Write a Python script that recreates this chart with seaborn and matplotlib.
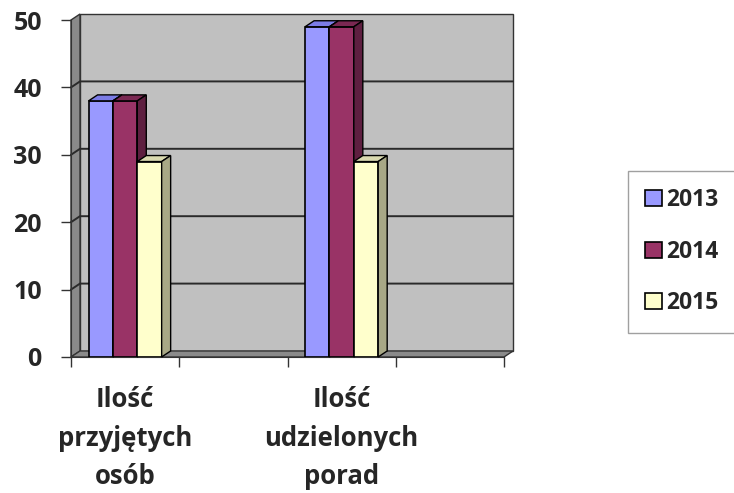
import matplotlib.pyplot as plt
import seaborn as sns
import pandas as pd
from matplotlib.patches import Polygon

# Data
categories = ["Ilość\nprzyjętych\nosób", "Ilość\nudzielonych\nporad"]
slots = [categories[0], "", categories[1], " "]  # empty slots as in the original
years = ["2013", "2014", "2015"]
v2013 = [38, 49]
v2014 = [38, 49]
v2015 = [29, 29]
yticks = [0, 10, 20, 30, 40, 50]

colors = ["#9999FF", "#993366", "#FFFFCC"]
top_colors = ["#7C7CE6", "#7A2852", "#DADAB0"]
side_colors = ["#6B6BB8", "#5E1F40", "#A8A886"]

df = pd.DataFrame({
    "kategoria": categories * 3,
    "rok": [y for y in years for _ in categories],
    "wartosc": v2013 + v2014 + v2015,
})

sns.set_style("white")
plt.rcParams["font.family"] = ["Open Sans", "DejaVu Sans"]
plt.rcParams["font.weight"] = "bold"

fig = plt.figure(figsize=(7.34, 4.93), dpi=100)
ax = fig.add_axes([0.0967, 0.2759, 0.590, 0.6835])
ax.set_facecolor("none")

sns.barplot(data=df, x="kategoria", y="wartosc", hue="rok", order=slots,
            hue_order=years, palette=colors, width=0.675, saturation=1,
            edgecolor="black", linewidth=1.2, errorbar=None, ax=ax)

ax.set_xlim(-0.5, 3.5)
ax.set_ylim(0, 50)

# 3D depth offsets (pixels -> axes / data units)
W = 0.590 * 734
H = 0.6835 * 493
dpx, dpy = 9, 6
dxa, dya = dpx / W, dpy / H
dxd, dyd = dxa * 4, dya * 50

wall = dict(clip_on=False, transform=ax.transAxes, edgecolor="#333333", lw=1)
ax.add_patch(Polygon([(dxa, dya), (1 + dxa, dya), (1 + dxa, 1 + dya), (dxa, 1 + dya)],
                     facecolor="#C0C0C0", zorder=0.5, **wall))
ax.add_patch(Polygon([(0, 0), (0, 1), (dxa, 1 + dya), (dxa, dya)],
                     facecolor="#8A8A8A", zorder=0.6, **wall))
ax.add_patch(Polygon([(0, 0), (1, 0), (1 + dxa, dya), (dxa, dya)],
                     facecolor="#8A8A8A", zorder=0.6, **wall))

for t in yticks[1:-1]:
    ya = t / 50
    ax.plot([0, dxa, 1 + dxa], [ya, ya + dya, ya + dya], color="#2A2A2A",
            lw=1.4, transform=ax.transAxes, clip_on=False, zorder=0.8)

# fake 3D faces on each bar
for i, cont in enumerate(ax.containers):
    for bar in cont:
        bar.set_zorder(3 + i)
        x, w, h = bar.get_x(), bar.get_width(), bar.get_height()
        top = Polygon([(x, h), (x + w, h), (x + w + dxd, h + dyd), (x + dxd, h + dyd)],
                      facecolor=top_colors[i], edgecolor="black", lw=1,
                      zorder=3 + i, clip_on=False)
        side = Polygon([(x + w, 0), (x + w, h), (x + w + dxd, h + dyd), (x + w + dxd, dyd)],
                       facecolor=side_colors[i], edgecolor="black", lw=1,
                       zorder=3 + i, clip_on=False)
        ax.add_patch(top)
        ax.add_patch(side)

for s in ["top", "right"]:
    ax.spines[s].set_visible(False)
ax.spines["left"].set_color("#333333")
ax.spines["bottom"].set_color("#333333")
ax.spines["left"].set_zorder(2)
ax.spines["bottom"].set_zorder(2)

ax.set_yticks(yticks)
ax.set_yticklabels([str(t) for t in yticks], fontsize=18, fontweight="bold")
ax.tick_params(axis="y", length=7, width=1, color="#333333", pad=14, left=True)

ax.set_xticks(range(len(slots)))
ax.set_xticklabels(slots, fontsize=18.5, fontweight="bold", linespacing=1.55)
ax.set_xticks([-0.5, 0.5, 1.5, 2.5, 3.5], minor=True)
ax.tick_params(axis="x", which="major", length=0, pad=21)
ax.tick_params(axis="x", which="minor", length=7, width=1, color="#333333", bottom=True)

ax.set_xlabel("")
ax.set_ylabel("")
ax.grid(False)

handles, labels = ax.get_legend_handles_labels()
if ax.get_legend() is not None:
    ax.get_legend().remove()
leg = fig.legend(handles, labels, loc="center left", bbox_to_anchor=(0.8556, 0.489),
                 prop={"weight": "bold", "size": 16.5}, frameon=True,
                 fancybox=False, edgecolor="#888888", handlelength=0.72,
                 handleheight=0.7, handletextpad=0.2, labelspacing=1.2,
                 borderpad=0.75, borderaxespad=0)
leg.get_frame().set_linewidth(1)

fig.savefig("out.png", dpi=100)
